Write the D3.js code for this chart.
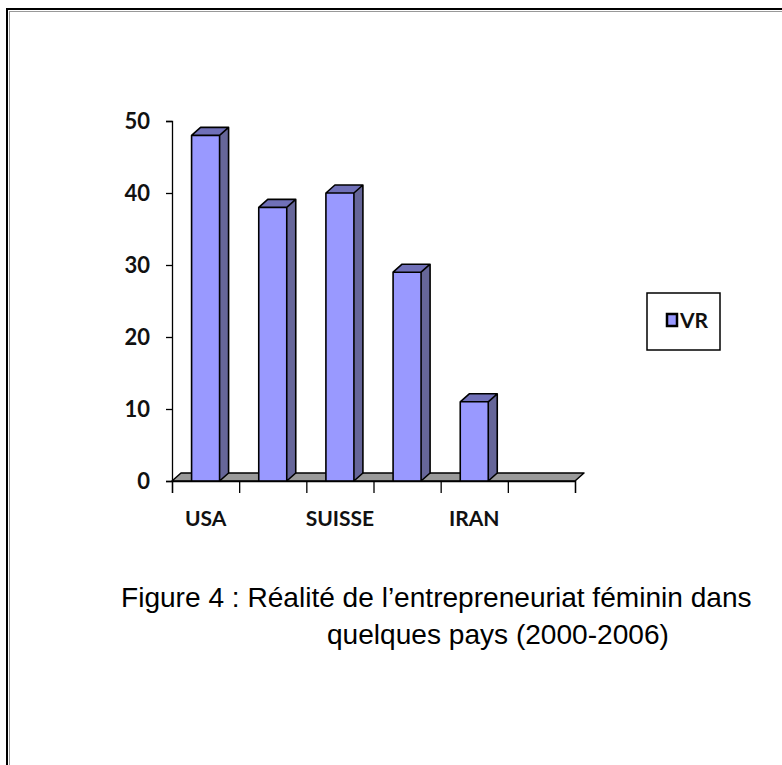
<!DOCTYPE html>
<html>
<head>
<meta charset="utf-8">
<title>Figure 4</title>
<script src="https://cdn.jsdelivr.net/npm/d3@7"></script>
<style>
  body { margin: 0; background: #fff; }
  svg { display: block; }
  .axis text { font-family: Lato, "Open Sans", sans-serif; font-weight: 700; fill: #111; }
  .caption { font-family: "Liberation Sans", Arial, sans-serif; fill: #000; }
</style>
</head>
<body>
<div id="chart"></div>
<script>
// data
var categories = ["USA", "", "SUISSE", "", "IRAN", ""];
var values = [48, 38, 40, 29, 11, null];
var yTicks = [0, 10, 20, 30, 40, 50];
var seriesName = "VR";
var captionLines = ["Figure 4 : Réalité de l’entrepreneuriat féminin dans", "quelques pays (2000-2006)"];

var width = 782, height = 765;
var depthX = 9, depthY = 8;

var svg = d3.select("#chart").append("svg")
    .attr("width", width)
    .attr("height", height);

// outer frame, runs off the right and bottom of the page
svg.append("rect")
    .attr("x", 7).attr("y", 9)
    .attr("width", 820).attr("height", 820)
    .attr("fill", "none").attr("stroke", "#000").attr("stroke-width", 2);
svg.append("rect")
    .attr("x", 9.5).attr("y", 11.5)
    .attr("width", 820).attr("height", 820)
    .attr("fill", "none").attr("stroke", "#999").attr("stroke-width", 1);

var x = d3.scaleBand()
    .domain(d3.range(categories.length))
    .range([172, 575]);
var xEdge = d3.scaleLinear()
    .domain([0, categories.length])
    .range([172, 575]);
var y = d3.scaleLinear()
    .domain([0, 50])
    .range([481, 121]);

var barW = 28;

// floor
var x0 = xEdge(0), x1 = xEdge(categories.length), y0 = y(0);
svg.append("path")
    .attr("d", "M" + x0 + "," + y0 + "L" + x1 + "," + y0 +
               "L" + (x1 + depthX) + "," + (y0 - depthY) +
               "L" + (x0 + depthX) + "," + (y0 - depthY) + "Z")
    .attr("fill", "#9a9a9a")
    .attr("stroke", "#000")
    .attr("stroke-width", 1.5)
    .attr("stroke-linejoin", "round");

// bars
var bars = svg.selectAll(".bar")
    .data(values.map(function(v, i) { return {i: i, v: v}; }).filter(function(d) { return d.v != null; }))
  .enter().append("g")
    .attr("class", "bar");

function left(d) { return x(d.i) + x.bandwidth() / 2 - barW / 2; }

bars.append("path") // side
    .attr("d", function(d) {
      var l = left(d) + barW, t = y(d.v);
      return "M" + l + "," + y0 + "L" + l + "," + t +
             "L" + (l + depthX) + "," + (t - depthY) +
             "L" + (l + depthX) + "," + (y0 - depthY) + "Z";
    })
    .attr("fill", "#666699");
bars.append("path") // top
    .attr("d", function(d) {
      var l = left(d), t = y(d.v);
      return "M" + l + "," + t + "L" + (l + barW) + "," + t +
             "L" + (l + barW + depthX) + "," + (t - depthY) +
             "L" + (l + depthX) + "," + (t - depthY) + "Z";
    })
    .attr("fill", "#7070b8");
bars.append("rect") // front
    .attr("x", left)
    .attr("y", function(d) { return y(d.v); })
    .attr("width", barW)
    .attr("height", function(d) { return y0 - y(d.v); })
    .attr("fill", "#9999ff");
bars.append("path") // outline
    .attr("d", function(d) {
      var l = left(d), r = l + barW, t = y(d.v);
      return "M" + l + "," + y0 + "L" + l + "," + t +
             "L" + (l + depthX) + "," + (t - depthY) +
             "L" + (r + depthX) + "," + (t - depthY) +
             "L" + (r + depthX) + "," + (y0 - depthY) +
             "L" + r + "," + y0 + "Z" +
             "M" + l + "," + t + "L" + r + "," + t + "L" + (r + depthX) + "," + (t - depthY) +
             "M" + r + "," + t + "L" + r + "," + y0;
    })
    .attr("fill", "none")
    .attr("stroke", "#000")
    .attr("stroke-width", 1.6)
    .attr("stroke-linejoin", "round");

// y axis
var yAxis = svg.append("g")
    .attr("class", "axis")
    .attr("transform", "translate(172,0)")
    .call(d3.axisLeft(y).tickValues(yTicks).tickSize(6).tickPadding(16));
yAxis.selectAll("path, line").attr("stroke", "#000").attr("stroke-width", 1.3);
yAxis.selectAll("text").style("font-size", "22px");

// x axis ticks at the category edges
var xTicks = svg.append("g")
    .attr("class", "axis")
    .attr("transform", "translate(0," + y0 + ")")
    .call(d3.axisBottom(xEdge).ticks(categories.length).tickSize(12).tickFormat(""));
xTicks.selectAll("path, line").attr("stroke", "#000").attr("stroke-width", 1.3);

// x labels at the band centres
var xLabels = svg.append("g")
    .attr("class", "axis")
    .attr("transform", "translate(0," + y0 + ")")
    .call(d3.axisBottom(x).tickSize(0).tickPadding(30).tickFormat(function(i) { return categories[i]; }));
xLabels.select(".domain").remove();
xLabels.selectAll("text").style("font-size", "21px");

// legend
var legend = svg.append("g");
legend.append("rect")
    .attr("x", 647).attr("y", 293)
    .attr("width", 73).attr("height", 57)
    .attr("fill", "#fff").attr("stroke", "#000").attr("stroke-width", 1.5);
legend.append("rect")
    .attr("x", 667).attr("y", 314)
    .attr("width", 10).attr("height", 12)
    .attr("fill", "#9999ff").attr("stroke", "#000").attr("stroke-width", 2.5);
legend.append("text")
    .attr("x", 680).attr("y", 328)
    .style("font-family", "Lato, 'Open Sans', sans-serif")
    .style("font-size", "21px")
    .style("font-weight", 700)
    .style("fill", "#111")
    .text(seriesName);

// caption
var cap1 = svg.append("text")
    .attr("class", "caption")
    .attr("x", 121).attr("y", 607)
    .style("font-size", "24px")
    .text(captionLines[0]);
var fs = 24 * 631 / cap1.node().getComputedTextLength();
cap1.style("font-size", fs + "px");
svg.append("text")
    .attr("class", "caption")
    .attr("x", 327).attr("y", 644)
    .style("font-size", fs + "px")
    .text(captionLines[1]);
</script>
</body>
</html>
